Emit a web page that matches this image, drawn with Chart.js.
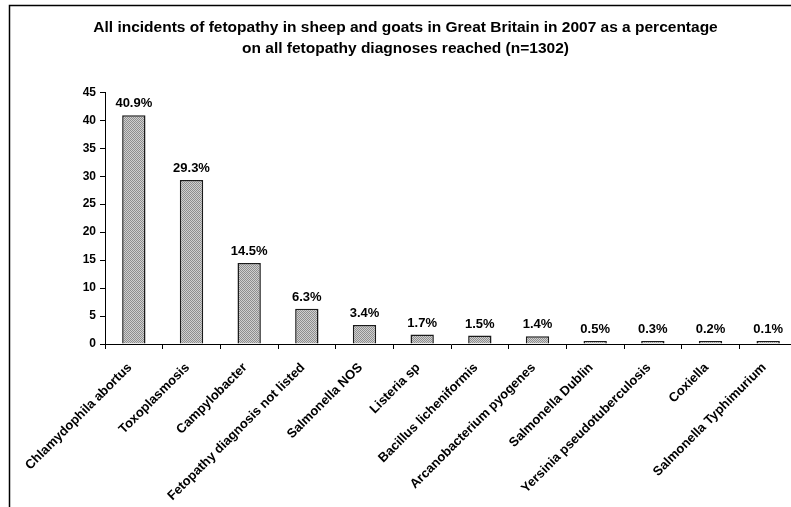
<!DOCTYPE html>
<html>
<head>
<meta charset="utf-8">
<script src="https://cdn.jsdelivr.net/npm/chart.js@4"></script>
<style>
  html, body { margin: 0; padding: 0; background: #fff; overflow: hidden; }
  #wrap { position: relative; width: 798px; height: 507px; }
</style>
</head>
<body>
<div id="wrap"><canvas id="chart"></canvas></div>
<script>
const categories = [
  'Chlamydophila abortus', 'Toxoplasmosis', 'Campylobacter',
  'Fetopathy diagnosis not listed', 'Salmonella NOS', 'Listeria sp',
  'Bacillus licheniformis', 'Arcanobacterium pyogenes', 'Salmonella Dublin',
  'Yersinia pseudotuberculosis', 'Coxiella', 'Salmonella Typhimurium'
];
const percentages = [40.9, 29.3, 14.5, 6.3, 3.4, 1.7, 1.5, 1.4, 0.5, 0.3, 0.2, 0.1];
const yTicks = [0, 5, 10, 15, 20, 25, 30, 35, 40, 45];
const titleLines = [
  'All incidents of fetopathy in sheep and goats in Great Britain in 2007 as a percentage',
  'on all fetopathy diagnoses reached (n=1302)'
];

const FONT = 'Arial, "Liberation Sans", sans-serif';

// fine grey hatch like the old spreadsheet fill
function makeHatch() {
  const c = document.createElement('canvas');
  c.width = 4; c.height = 4;
  const g = c.getContext('2d');
  g.fillStyle = '#d0d0d0';
  g.fillRect(0, 0, 4, 4);
  g.fillStyle = '#8e8e8e';
  for (let i = 0; i < 4; i++) {
    g.fillRect(i, i % 4, 1, 1);
    g.fillRect(i, (i + 2) % 4, 1, 1);
  }
  return g.createPattern(c, 'repeat');
}

// outer frame of the picture (left and top edges visible)
const framePlugin = {
  id: 'frame',
  beforeDraw(chart) {
    const ctx = chart.ctx;
    ctx.save();
    ctx.fillStyle = '#fff';
    ctx.fillRect(0, 0, chart.width, chart.height);
    ctx.strokeStyle = '#000';
    ctx.lineWidth = 1.5;
    ctx.strokeRect(9.5, 5.5, chart.width + 20, chart.height + 20);
    ctx.restore();
  }
};

// percentage labels above the bars
const valueLabels = {
  id: 'valueLabels',
  afterDatasetsDraw(chart) {
    const ctx = chart.ctx;
    const meta = chart.getDatasetMeta(0);
    ctx.save();
    ctx.font = 'bold 13px ' + FONT;
    ctx.fillStyle = '#000';
    ctx.textAlign = 'center';
    ctx.textBaseline = 'bottom';
    meta.data.forEach((bar, i) => {
      ctx.fillText(percentages[i].toFixed(1) + '%', bar.x, bar.y - 5);
    });
    ctx.restore();
  }
};

const ctx = document.getElementById('chart').getContext('2d');
new Chart(ctx, {
  type: 'bar',
  data: {
    labels: categories,
    datasets: [{
      data: percentages,
      backgroundColor: makeHatch(),
      borderColor: '#1a1a1a',
      borderWidth: 1.5,
      minBarLength: 3,
      categoryPercentage: 0.405,
      barPercentage: 1.0
    }]
  },
  options: {
    responsive: true,
    maintainAspectRatio: false,
    animation: false,
    layout: { padding: { left: 14, right: 1, top: 0, bottom: 0 } },
    plugins: {
      legend: { display: false },
      tooltip: { enabled: false },
      title: {
        display: true,
        text: titleLines,
        color: '#000',
        font: { family: FONT, size: 15.5, weight: 'bold', lineHeight: 1.3 },
        padding: { top: 18, bottom: 34 }
      }
    },
    scales: {
      x: {
        grid: { drawOnChartArea: false, color: '#000', tickLength: 5, offset: true },
        border: { color: '#000', width: 1 },
        ticks: {
          color: '#000',
          font: { family: FONT, size: 13, weight: 'bold' },
          minRotation: 45,
          maxRotation: 45,
          autoSkip: false,
          padding: 11,
          labelOffset: -4
        },
        afterFit(scale) { scale.height = 163; }
      },
      y: {
        min: 0,
        max: 45,
        afterBuildTicks(scale) { scale.ticks = yTicks.map(v => ({ value: v })); },
        grid: { drawOnChartArea: false, color: '#000', tickLength: 5 },
        border: { color: '#000', width: 1 },
        ticks: {
          color: '#000',
          font: { family: FONT, size: 12, weight: 'bold' },
          padding: 4
        },
        afterFit(scale) { scale.width = 91; }
      }
    }
  },
  plugins: [framePlugin, valueLabels]
});
</script>
</body>
</html>
